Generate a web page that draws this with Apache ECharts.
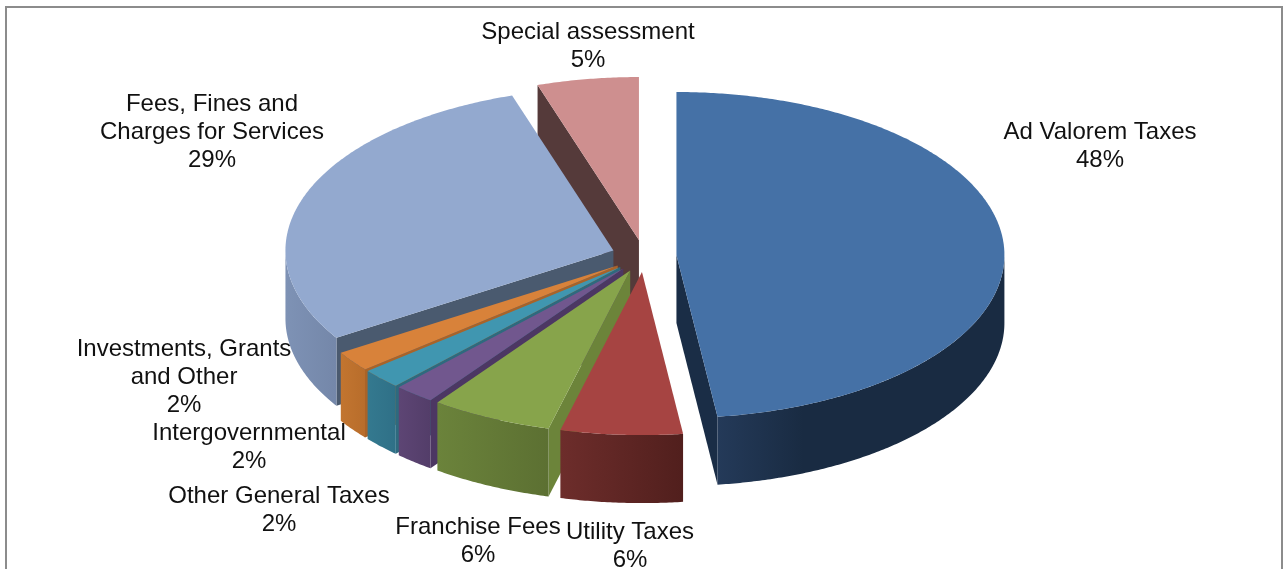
<!DOCTYPE html>
<html>
<head>
<meta charset="utf-8">
<style>html,body{margin:0;padding:0;background:#fff}#c{width:1288px;height:569px}</style>
<script src="https://cdn.jsdelivr.net/npm/echarts@6/dist/echarts.min.js"></script>
</head>
<body>
<div id="c"></div>
<script>
const categories = ['Ad Valorem Taxes','Utility Taxes','Franchise Fees','Other General Taxes','Intergovernmental','Investments, Grants\nand Other','Fees, Fines and\nCharges for Services','Special assessment'];
const shares = [48,6,6,2,2,2,29,5];
const topColors = ['#4571a6','#a64442','#87a44b','#71578e','#4096b0','#d8823a','#93a9cf','#ce8f8f'];
const wallFrom = ['#243a59','#6d2d2b','#6b833b','#5d4574','#34798f','#c27530','#7e92b5','#553a3a'];
const wallTo = ['#192b42','#511f1d','#5c7032','#533d69','#2f7087','#b86d2b','#7487a9','#553a3a'];
const wallMid = [0.3,1,1,1,1,1,1,1];
const cutColors = ['#1a2d46','#5a2523','#6c843a','#4c3763','#2e6a7e','#a96328','#4a5a6f','#553a3a'];
const drawRank = [1,7,6,5,4,3,2,0];
const labelX = [1100,630,478,279,249,184,212,588];
const labelY = [146,546,541,510,447,377,132,46];

const CX = 644, CY = 256, RX = 328, RY = 163, DEPTH = 68, EXPLODE = 0.099;
const rad = d => d * Math.PI / 180;

function arc(cx, cy, a0, a1) {
  const n = Math.max(2, Math.ceil(Math.abs(a1 - a0) * 2)), out = [];
  for (let i = 0; i <= n; i++) {
    const t = rad(a0 + (a1 - a0) * i / n);
    out.push([cx + RX * Math.sin(t), cy - RY * Math.cos(t)]);
  }
  return out;
}
function sweep(pts) {
  return pts.concat(pts.slice().reverse().map(p => [p[0], p[1] + DEPTH]));
}
const total = shares.reduce((a, b) => a + b, 0);

function renderItem(params, api) {
  const i = params.dataIndex, value = api.value(0);
  let before = 0;
  for (let k = 0; k < i; k++) before += shares[k];
  const a0 = before / total * 360, a1 = (before + value) / total * 360, mid = (a0 + a1) / 2;
  const cx = CX + EXPLODE * RX * Math.sin(rad(mid));
  const cy = CY - EXPLODE * RY * Math.cos(rad(mid));
  const base = drawRank[i] * 10, children = [];
  const apex = [cx, cy];
  const poly = (points, fill, z2) => children.push({type:'polygon', z2: z2, shape:{points}, style:{fill}});
  const edge = a => [apex, arc(cx, cy, a, a)[0]];
  if (Math.sin(rad(a0)) < -1e-6) poly(sweep(edge(a0)), cutColors[i], base + 1);
  if (Math.sin(rad(a1)) > 1e-6) poly(sweep(edge(a1)), cutColors[i], base + 1);
  const w0 = Math.max(a0, 90), w1 = Math.min(a1, 270);
  if (w1 > w0) {
    poly(sweep(arc(cx, cy, w0, w1)), new echarts.graphic.LinearGradient(0,0,1,0,[
      {offset:0,color:wallFrom[i]},{offset:wallMid[i],color:wallTo[i]},{offset:1,color:wallTo[i]}]), base + 2);
  }
  poly([apex].concat(arc(cx, cy, a0, a1)), topColors[i], base + 3);
  children.push({type:'text', z2: 1000, style:{
    x: labelX[i], y: labelY[i], text: categories[i] + '\n' + value + '%',
    align:'center', verticalAlign:'middle', lineHeight:28,
    font:'24px "Liberation Sans", Arial, sans-serif', fill:'#111'}});
  return {type:'group', children};
}

const chart = echarts.init(document.getElementById('c'), null, {renderer:'canvas', width:1288, height:569});
chart.setOption({
  animation:false,
  backgroundColor:'#fff',
  graphic:[{type:'polyline', silent:true, shape:{points:[[6,569],[6,7],[1282,7],[1282,569]]},
    style:{stroke:'#8c8c8c', lineWidth:2, fill:'none'}}],
  series:[{type:'custom', coordinateSystem:'none', silent:true, clip:false,
    data: shares.map(v => [v]), renderItem}]
});
</script>
</body>
</html>
